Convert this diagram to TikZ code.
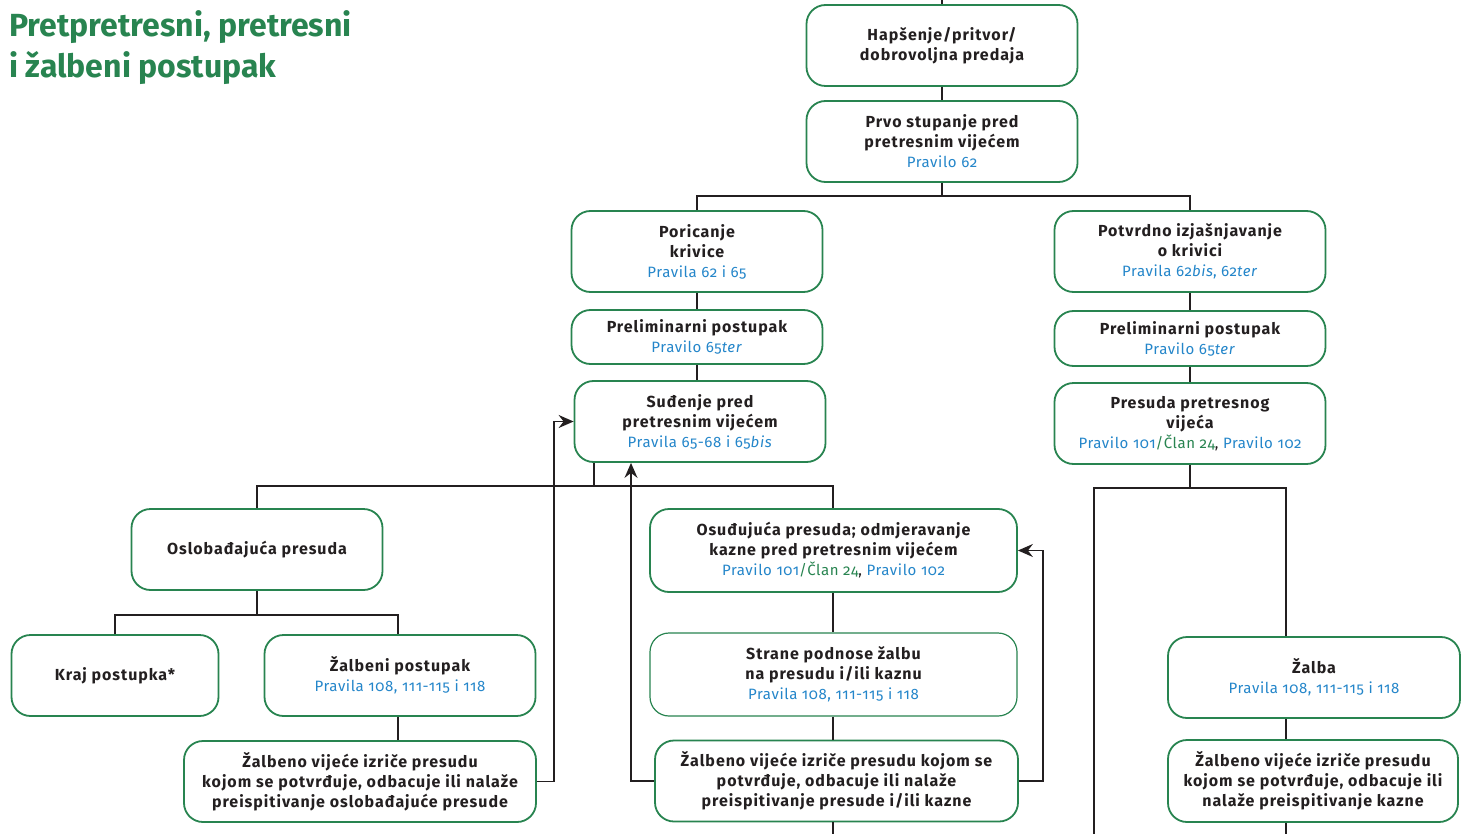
\documentclass[tikz,border=0pt]{standalone}
\usepackage{fontspec}
\setmainfont{Fira Sans}
\newfontfamily\boxfont{Fira Sans}[LetterSpace=6]
\newfontfamily\rulefont{Fira Sans}[LetterSpace=4,Numbers=OldStyle]
\usetikzlibrary{arrows.meta}
\definecolor{boxgreen}{RGB}{40,132,80}
\definecolor{ruleblue}{RGB}{36,134,202}
\definecolor{ink}{RGB}{35,31,32}
\newcommand{\rul}[1]{{\rulefont\mdseries\fontsize{15}{20}\selectfont\color{ruleblue}#1}}
\newcommand{\clan}[1]{\textcolor{boxgreen}{#1}}
\begin{document}
\begin{tikzpicture}[x=1pt,y=-1pt,
 box/.style={draw=boxgreen,line width=1.8pt,rounded corners=19pt,fill=white,align=center,text=ink,
  font=\boxfont\fontsize{16}{20}\selectfont\bfseries,inner sep=0pt,minimum width=251,minimum height=81},
 link/.style={draw=ink,line width=1.6pt},
 arr/.style={link,-{Stealth[length=15pt,width=13pt,inset=5pt]}}]
\useasboundingbox (0,0) rectangle (1463,834);
\node[anchor=north west,align=left,text=boxgreen,font=\fontsize{32}{41}\selectfont\bfseries,inner sep=0pt] (title) at (9,10)
 {Pretpretresni, pretresni\\i žalbeni postupak};
\node[box,minimum width=271] (hap) at (942,45.5) {Hapšenje/pritvor/\\dobrovoljna predaja};
\node[box,minimum width=271] (prvo) at (942,141.5) {Prvo stupanje pred\\pretresnim vijećem\\\rul{Pravilo 62}};
\node[box] (por) at (697,251.5) {Poricanje\\krivice\\\rul{Pravila 62 i 65}};
\node[box,minimum height=54] (prel1) at (697,337) {Preliminarni postupak\\\rul{Pravilo 65\textit{ter}}};
\node[box] (sud) at (700,421.5) {Suđenje pred\\pretresnim vijećem\\\rul{Pravila 65-68 i 65\textit{bis}}};
\node[box,minimum width=271] (potv) at (1190,251.5) {Potvrdno izjašnjavanje\\o krivici\\\rul{Pravila 62\textit{bis}, 62\textit{ter}}};
\node[box,minimum width=271,minimum height=55] (prel2) at (1190,338.5) {Preliminarni postupak\\\rul{Pravilo 65\textit{ter}}};
\node[box,minimum width=271] (pres) at (1190,423.5) {Presuda pretresnog\\vijeća\\\rul{Pravilo 101\clan{/Član 24}\textcolor{ink}{,} Pravilo 102}};
\node[box] (osl) at (257,549.5) {Oslobađajuća presuda};
\node[box,minimum width=207] (kraj) at (115,675.5) {Kraj postupka*};
\node[box,minimum width=271] (zalp) at (400,675.5) {Žalbeni postupak\\\rul{Pravila 108, 111-115 i 118}};
\node[box,minimum width=352] (zvl) at (360,781.5) {Žalbeno vijeće izriče presudu\\kojom se potvrđuje, odbacuje ili nalaže\\preispitivanje oslobađajuće presude};
\node[box,minimum width=367,minimum height=83] (osu) at (833.5,550.5) {Osuđujuća presuda; odmjeravanje\\kazne pred pretresnim vijećem\\\rul{Pravilo 101\clan{/Član 24}\textcolor{ink}{,} Pravilo 102}};
\node[box,minimum width=367,minimum height=83,line width=1.2pt] (strane) at (833.5,674.5) {Strane podnose žalbu\\na presudu i/ili kaznu\\\rul{Pravila 108, 111-115 i 118}};
\node[box,minimum width=363] (zvm) at (836.5,781) {Žalbeno vijeće izriče presudu kojom se\\potvrđuje, odbacuje ili nalaže\\preispitivanje presude i/ili kazne};
\node[box,minimum width=292] (zalba) at (1314,677.5) {Žalba\\\rul{Pravila 108, 111-115 i 118}};
\node[box,minimum width=290,minimum height=82] (zvr) at (1313,781) {Žalbeno vijeće izriče presudu\\kojom se potvrđuje, odbacuje ili\\nalaže preispitivanje kazne};
\coordinate (in) at (942,0);
\coordinate (split1) at (942,196);
\coordinate (split2) at (594,486);
\coordinate (split3) at (257,615);
\coordinate (split4) at (1190,488);
\coordinate (back) at (631,0);
\coordinate (outL) at (1094,834);
\coordinate (outM) at (833,834);
\coordinate (outR) at (1286,834);
\draw[link] (in) -- (hap);
\draw[link] (hap) -- (prvo);
\draw[link] (prvo) -- (split1);
\draw[link] (por.north) |- (split1) -| (potv.north);
\draw[link] (por) -- (prel1);
\draw[link] (prel1.south) -- (prel1.south |- sud.north);
\draw[link] (potv) -- (prel2);
\draw[link] (prel2) -- (pres);
\draw[link] (split2 |- sud.south) -- (split2);
\draw[link] (osl.north) |- (split2) -| (outM |- osu.north);
\draw[link] (osl) -- (split3);
\draw[link] (kraj.north) |- (split3) -| (398,0 |- zalp.north);
\draw[link] (398,0 |- zalp.south) -- (398,0 |- zvl.north);
\draw[link] (outM |- osu.south) -- (outM |- strane.north);
\draw[link] (outM |- strane.south) -- (outM |- zvm.north);
\draw[link] (outM |- zvm.south) -- (outM);
\draw[link] (pres) -- (split4);
\draw[link] (outL) |- (split4) -| (outR |- zalba.north);
\draw[link] (outR |- zalba.south) -- (outR |- zvr.north);
\draw[link] (outR |- zvr.south) -- (outR);
\draw[arr] (zvl.east) -- ++(17,0) |- (sud.west);
\draw[arr] (zvm.west) -| (back |- sud.south);
\draw[arr] (zvm.east) -- ++(24,0) |- (osu.east);
\end{tikzpicture}
\end{document}
